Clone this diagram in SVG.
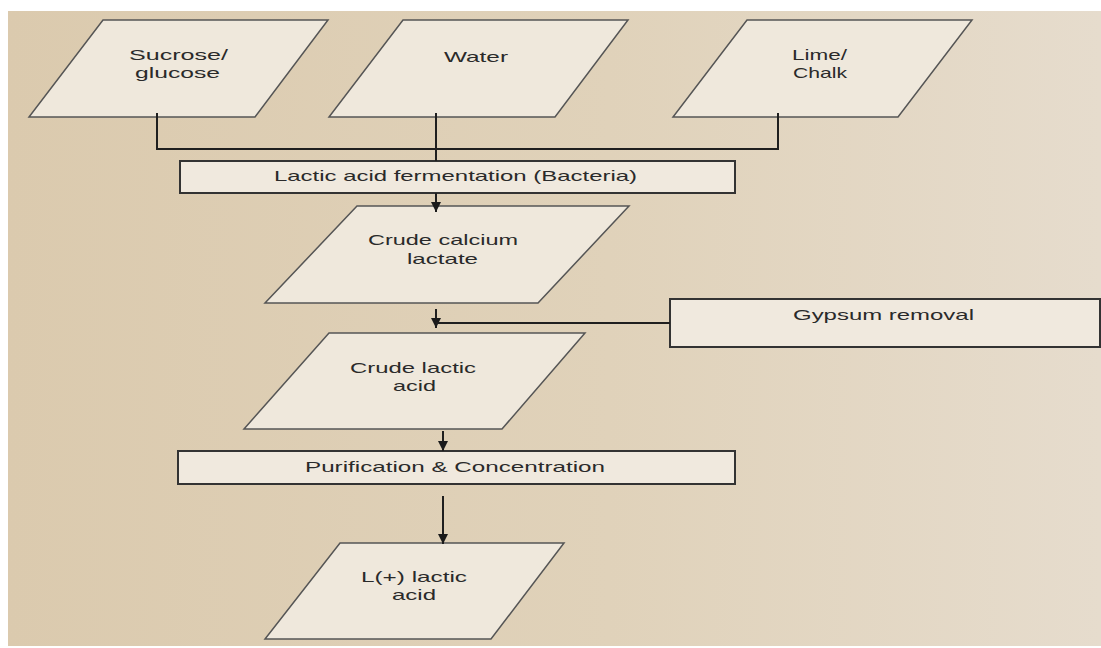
<svg xmlns="http://www.w3.org/2000/svg" width="1101" height="648" viewBox="0 0 1101 648">
  <defs>
    <linearGradient id="bg" x1="0" y1="0" x2="1" y2="0">
      <stop offset="0" stop-color="#dbcaae"/>
      <stop offset="0.55" stop-color="#e0d2ba"/>
      <stop offset="1" stop-color="#e6dccd"/>
    </linearGradient>
    <marker id="arrow" viewBox="0 0 10 10" refX="10" refY="5" markerWidth="10" markerHeight="11" markerUnits="userSpaceOnUse" orient="auto">
      <path d="M0,0 L10,5 L0,10 Z" fill="#1a1a1a"/>
    </marker>
    <style>
      .para { fill: #efe8dc; stroke: #555; stroke-width: 1.5; }
      .box { fill: #f0e9de; stroke: #333; stroke-width: 2; }
      .lbl { font-family: "Liberation Sans", Arial, sans-serif; font-size: 15px; fill: #2a2a2a; }
      .wire { fill: none; stroke: #1f1f1f; stroke-width: 2; }
      .wire-a { fill: none; stroke: #1f1f1f; stroke-width: 2; marker-end: url(#arrow); }
    </style>
  </defs>

  <!-- page background -->
  <rect x="0" y="0" width="1101" height="648" fill="#ffffff"/>
  <rect x="8" y="11" width="1093" height="635" fill="url(#bg)"/>

  <g id="sucrose">
    <polygon class="para" points="103,20 328,20 255,117 29,117"/>
    <text class="lbl" x="129" y="60" textLength="99" lengthAdjust="spacingAndGlyphs">Sucrose/</text>
    <text class="lbl" x="135" y="78" textLength="85" lengthAdjust="spacingAndGlyphs">glucose</text>
  </g>

  <g id="water">
    <polygon class="para" points="403,20 628,20 555,117 329,117"/>
    <text class="lbl" x="444" y="62" textLength="64" lengthAdjust="spacingAndGlyphs">Water</text>
  </g>

  <g id="lime">
    <polygon class="para" points="747,20 972,20 898,117 673,117"/>
    <text class="lbl" x="792" y="60" textLength="55" lengthAdjust="spacingAndGlyphs">Lime/</text>
    <text class="lbl" x="793" y="78" textLength="54" lengthAdjust="spacingAndGlyphs">Chalk</text>
  </g>

  <g id="fermentation">
    <rect class="box" x="180" y="161" width="555" height="32"/>
    <text class="lbl" x="274" y="181" textLength="363" lengthAdjust="spacingAndGlyphs">Lactic acid fermentation (Bacteria)</text>
  </g>

  <g id="calcium-lactate">
    <polygon class="para" points="357,206 629,206 538,303 265,303"/>
    <text class="lbl" x="368" y="245" textLength="150" lengthAdjust="spacingAndGlyphs">Crude calcium</text>
    <text class="lbl" x="407" y="264" textLength="71" lengthAdjust="spacingAndGlyphs">lactate</text>
  </g>

  <g id="gypsum">
    <rect class="box" x="670" y="299" width="430" height="48"/>
    <text class="lbl" x="793" y="320" textLength="181" lengthAdjust="spacingAndGlyphs">Gypsum removal</text>
  </g>

  <g id="crude-lactic">
    <polygon class="para" points="329,333 585,333 502,429 244,429"/>
    <text class="lbl" x="350" y="373" textLength="126" lengthAdjust="spacingAndGlyphs">Crude lactic</text>
    <text class="lbl" x="393" y="391" textLength="43" lengthAdjust="spacingAndGlyphs">acid</text>
  </g>

  <g id="purification">
    <rect class="box" x="178" y="451" width="557" height="33"/>
    <text class="lbl" x="305" y="472" textLength="300" lengthAdjust="spacingAndGlyphs">Purification &amp; Concentration</text>
  </g>

  <g id="l-lactic">
    <polygon class="para" points="340,543 564,543 491,639 265,639"/>
    <text class="lbl" x="361" y="582" textLength="106" lengthAdjust="spacingAndGlyphs">L(+) lactic</text>
    <text class="lbl" x="392" y="600" textLength="44" lengthAdjust="spacingAndGlyphs">acid</text>
  </g>

  <!-- connectors, drawn last so arrowheads sit over the shape edges -->
  <g id="connectors">
    <path class="wire" d="M157,113 V149 H778 V113"/>
    <path class="wire" d="M436,113 V161"/>
    <path class="wire-a" d="M436,193 V212"/>
    <path class="wire-a" d="M436,309 V328"/>
    <path class="wire" d="M436,323 H670"/>
    <path class="wire-a" d="M443,431 V451"/>
    <path class="wire-a" d="M443,496 V544"/>
  </g>
</svg>
